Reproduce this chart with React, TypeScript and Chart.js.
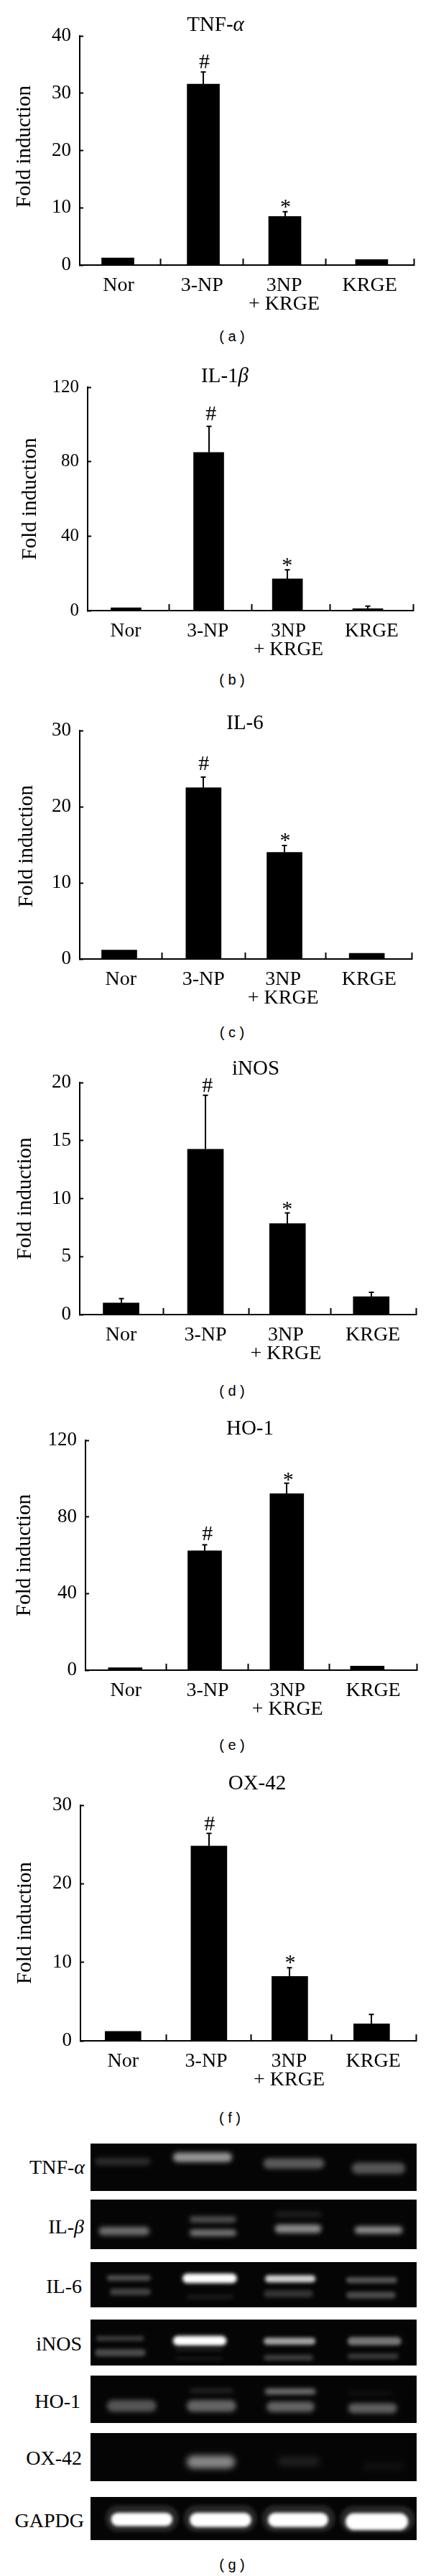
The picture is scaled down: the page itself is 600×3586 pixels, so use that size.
import React, { useEffect, useRef } from "react";
import { Chart, registerables } from "chart.js";

Chart.register(...registerables);

const SERIF = '"Liberation Serif", serif';

// ---------- bar chart data ----------
const categories = ["Nor", "3-NP", ["3NP", "+ KRGE"], "KRGE"];

const tnfValues = [1.25, 31.6, 8.5, 0.96];
const tnfErrors = [null, 33.7, 9.3, null];
const tnfTicks = [0, 10, 20, 30, 40];

const il1Values = [1.5, 85, 17, 1];
const il1Errors = [null, 99, 21.9, 2.4];
const il1Ticks = [0, 40, 80, 120];

const il6Values = [1.16, 22.5, 14, 0.75];
const il6Errors = [null, 23.9, 14.9, null];
const il6Ticks = [0, 10, 20, 30];

const inosValues = [1, 14.25, 7.85, 1.55];
const inosErrors = [1.38, 18.9, 8.76, 1.92];
const inosTicks = [0, 5, 10, 15, 20];

const hoValues = [1.25, 62.3, 92.1, 2.1];
const hoErrors = [null, 65.4, 97.6, null];
const hoTicks = [0, 40, 80, 120];

const oxValues = [1.2, 24.8, 8.2, 2.16];
const oxErrors = [null, 26.4, 9.3, 3.35];
const oxTicks = [0, 10, 20, 30];

const markSymbols = ["#", "*"];

// ---------- gel bands: [from %, to %, row position %, band height %, brightness] ----------
const tnfBands = [
  [1.3, 18.4, 38, 15, 45], [25.3, 43.4, 29, 20, 150], [53, 71.7, 42, 22, 90], [80.1, 96.5, 52, 24, 85],
];
const ilbBands = [
  [2.5, 18.1, 63.5, 17, 110], [30.4, 44.7, 40, 12, 85], [30.4, 44.7, 67, 13, 120],
  [56.5, 70.8, 30, 12, 30], [56.5, 70.8, 59, 17, 140], [81, 95.7, 61.5, 15, 140],
];
const il6Bands = [
  [5, 18.5, 35, 13, 75], [5.9, 18.5, 66, 15, 65], [29.5, 43.8, 77, 10, 25], [28.2, 44.9, 36, 21, 255],
  [53.5, 69, 37, 16, 210], [53.1, 68.3, 70, 16, 50], [78.4, 94, 40, 13, 85], [78.4, 93.6, 73, 15, 75],
];
const inosBands = [
  [1.7, 16.4, 41, 11, 60], [1.3, 16.9, 72, 16, 75], [26.1, 40.5, 65, 4, 50], [26.1, 40.5, 85, 5, 30],
  [25.3, 41.7, 46, 21, 255], [53.1, 69, 47, 15, 165], [53.1, 68.3, 83, 13, 60],
  [78.8, 95.3, 47, 18, 120], [78.8, 94.4, 80, 13, 55],
];
const hoBands = [
  [5, 20.2, 64, 25, 85], [30.4, 43.8, 32, 9, 40], [29.5, 44.7, 64, 25, 100],
  [53.5, 69, 33.5, 11, 130], [54, 68.7, 66, 22, 100], [79, 92.7, 37, 6, 22], [79, 94, 69, 21, 95],
];
const oxBands = [
  [29.5, 44.3, 60, 27, 135], [57.3, 70.4, 59, 20, 30], [83.5, 96, 69, 15, 18],
];
const gapdgBands = [
  [6.3, 25.1, 52, 31, 255], [30.4, 49.3, 53, 33, 255], [54.4, 72.9, 53, 33, 255], [78.2, 97.4, 57, 39, 255],
  [4.5, 27, 50, 62, 38], [28.5, 51, 50, 62, 38], [52.5, 75, 50, 62, 38], [76.5, 99.5, 52, 62, 38],
];

// ---------- layout (page pixels and percent positions) ----------
const panels = [
  {
    values: tnfValues, errors: tnfErrors, ticks: tnfTicks, max: 40,
    title: <>TNF-<i>α</i></>, caption: "( a )",
    axisX: 111, rightX: 576, top: 50, base: 369, titleX: 300, titleY: 33, captionY: 468, captionX: 323,
    yTitleX: 34.5, yTitleShift: -5.5, tickSize: 27, labelSize: 28, barW: 45,
    xTicks: [24.1, 49, 73.6, 100], barX: [11.4, 37, 61.4, 87.4], labelX: [11.6, 36.6, 61.2, 86.8],
    markX: [37.3, 61.6], markY: [35.6, 10.8],
  },
  {
    values: il1Values, errors: il1Errors, ticks: il1Ticks, max: 120,
    title: <>IL-1<i>β</i></>, caption: "( b )",
    axisX: 122, rightX: 575, top: 539, base: 850, titleX: 313, titleY: 522, captionY: 946, captionX: 323,
    yTitleX: 42, yTitleShift: 0, tickSize: 25, labelSize: 27.5, barW: 42,
    xTicks: [25.1, 50.4, 74.5, 100], barX: [11.8, 37.2, 61.4, 86.1], labelX: [11.7, 36.9, 61.7, 87.3],
    markX: [37.9, 61.3], markY: [106.2, 26.4],
  },
  {
    values: il6Values, errors: il6Errors, ticks: il6Ticks, max: 30,
    title: <>IL-6</>, caption: "( c )",
    axisX: 111, rightX: 573, top: 1017, base: 1335, titleX: 341, titleY: 1005, captionY: 1437, captionX: 323,
    yTitleX: 37, yTitleShift: 2, tickSize: 27, labelSize: 28, barW: 49,
    xTicks: [24.7, 49.8, 74.2, 100], barX: [11.9, 37.3, 61.7, 86.5], labelX: [12.4, 37.3, 61.3, 87.2],
    markX: [37.4, 61.9], markY: [25.8, 16],
  },
  {
    values: inosValues, errors: inosErrors, ticks: inosTicks, max: 20,
    title: <>iNOS</>, caption: "( d )",
    axisX: 111, rightX: 579, top: 1507, base: 1830, titleX: 356, titleY: 1486, captionY: 1936, captionX: 323,
    yTitleX: 35, yTitleShift: 0, tickSize: 27, labelSize: 28, barW: 50,
    xTicks: [24.9, 50.4, 74.6, 100], barX: [12.3, 37.4, 61.8, 86.7], labelX: [12.3, 37.4, 61.3, 87.2],
    markX: [38, 61.7], markY: [19.83, 9.4],
  },
  {
    values: hoValues, errors: hoErrors, ticks: hoTicks, max: 120,
    title: <>HO-1</>, caption: "( e )",
    axisX: 119, rightX: 580, top: 2005, base: 2325, titleX: 348, titleY: 1987, captionY: 2429, captionX: 323,
    yTitleX: 34.5, yTitleShift: 0, tickSize: 27, labelSize: 28, barW: 47,
    xTicks: [24.3, 49.2, 73.7, 100], barX: [12, 36, 60.8, 85.1], labelX: [12.2, 36.9, 61, 86.9],
    markX: [36.8, 61.2], markY: [71.8, 101.1],
  },
  {
    values: oxValues, errors: oxErrors, ticks: oxTicks, max: 30,
    title: <>OX-42</>, caption: "( f )",
    axisX: 112, rightX: 579, top: 2513, base: 2841, titleX: 358, titleY: 2481, captionY: 2948, captionX: 320,
    yTitleX: 35, yTitleShift: 0, tickSize: 27, labelSize: 28, barW: 50,
    xTicks: [25.6, 50.8, 74.8, 100], barX: [12.7, 38.3, 62.4, 86.8], labelX: [12.7, 37.5, 62.2, 87.3],
    markX: [38.5, 62.5], markY: [27.7, 10.4],
  },
];

const gelRows = [
  { label: <>TNF-<i>α</i></>, bands: tnfBands, top: 2984, bottom: 3050, labelRight: 118, labelY: 3017, blur: 3.2 },
  { label: <>IL-<i>β</i></>, bands: ilbBands, top: 3062, bottom: 3131, labelRight: 117, labelY: 3100, blur: 3 },
  { label: <>IL-6</>, bands: il6Bands, top: 3149, bottom: 3212, labelRight: 114, labelY: 3183, blur: 2.6 },
  { label: <>iNOS</>, bands: inosBands, top: 3229, bottom: 3293, labelRight: 114, labelY: 3263, blur: 2.6 },
  { label: <>HO-1</>, bands: hoBands, top: 3307, bottom: 3373, labelRight: 112, labelY: 3343, blur: 3.2 },
  { label: <>OX-42</>, bands: oxBands, top: 3387, bottom: 3454, labelRight: 114, labelY: 3422, blur: 4 },
  { label: <>GAPDG</>, bands: gapdgBands, top: 3476, bottom: 3536, labelRight: 117, labelY: 3509, blur: 2 },
];
const gelLeft = 126;
const gelRight = 580;

const CANVAS_HEAD = 45;
const CANVAS_FOOT = 72;

// draws whiskers and significance symbols through the chart's scales
const annotations = {
  id: "annotations",
  afterDatasetsDraw(chart: any, _args: any, opts: any) {
    const { ctx, scales } = chart;
    ctx.save();
    ctx.strokeStyle = "#000";
    ctx.lineWidth = 2;
    opts.errors.forEach((err: number | null, i: number) => {
      if (err == null) return;
      const x = Math.round(scales.x.getPixelForValue(opts.barX[i]));
      const y0 = scales.y.getPixelForValue(opts.values[i]);
      const y1 = scales.y.getPixelForValue(err);
      ctx.beginPath();
      ctx.moveTo(x, y0);
      ctx.lineTo(x, y1);
      ctx.moveTo(x - 3.5, y1);
      ctx.lineTo(x + 3.5, y1);
      ctx.stroke();
    });
    ctx.fillStyle = "#000";
    ctx.font = `30px ${SERIF}`;
    ctx.textAlign = "center";
    ctx.textBaseline = "alphabetic";
    markSymbols.forEach((sym, i) => {
      const x = scales.x.getPixelForValue(opts.markX[i]);
      const y = scales.y.getPixelForValue(opts.markY[i]);
      ctx.fillText(sym, x, y + (sym === "#" ? 10 : 14));
    });
    ctx.restore();
  },
};

const blurBands = {
  id: "blurBands",
  beforeDatasetsDraw(chart: any, _args: any, opts: any) {
    chart.ctx.save();
    chart.ctx.filter = `blur(${opts.radius}px)`;
  },
  afterDatasetsDraw(chart: any) {
    chart.ctx.restore();
  },
};

function BarPanel({ p }: { p: any }) {
  const ref = useRef<HTMLCanvasElement>(null);
  useEffect(() => {
    const chart = new Chart(ref.current as any, {
      type: "bar",
      data: {
        datasets: [
          {
            data: p.values.map((y: number, i: number) => ({ x: p.barX[i], y })),
            backgroundColor: "#000",
            barThickness: p.barW,
          },
        ],
      },
      plugins: [annotations],
      options: {
        animation: false,
        responsive: false,
        parsing: { xAxisKey: "x", yAxisKey: "y" },
        layout: { padding: { top: CANVAS_HEAD, left: 0, bottom: 0, right: 600 - p.rightX } },
        plugins: {
          legend: { display: false },
          tooltip: { enabled: false },
          annotations: { errors: p.errors, values: p.values, barX: p.barX, markX: p.markX, markY: p.markY },
        },
        scales: {
          y: {
            type: "linear",
            min: 0,
            max: p.max,
            afterBuildTicks: (s: any) => { s.ticks = p.ticks.map((value: number) => ({ value })); },
            afterFit: (s: any) => {
              s.width = p.axisX;
              if (!s.titleShifted) {
                const drawTitle = s.drawTitle.bind(s);
                s.drawTitle = () => {
                  s.ctx.save();
                  s.ctx.translate(0, p.yTitleShift);
                  drawTitle();
                  s.ctx.restore();
                };
                s.titleShifted = true;
              }
            },
            title: {
              display: true,
              text: "Fold induction",
              color: "#000",
              font: { family: SERIF, size: 29, lineHeight: 1 },
              padding: { top: p.yTitleX - 14.5, bottom: 0 },
            },
            border: { color: "#000", width: 2 },
            grid: { drawOnChartArea: false, drawTicks: true, tickLength: -5, tickColor: "#000", tickWidth: 2 },
            ticks: { color: "#000", font: { family: SERIF, size: p.tickSize }, padding: 17 },
          },
          x: {
            type: "linear",
            position: "bottom",
            weight: 0,
            min: 0,
            max: 100,
            offset: false,
            afterBuildTicks: (s: any) => { s.ticks = p.xTicks.map((value: number) => ({ value })); },
            afterFit: (s: any) => { s.height = 0; },
            border: { color: "#000", width: 2 },
            grid: { offset: false, drawOnChartArea: false, drawTicks: true, tickLength: -9, tickColor: "#000", tickWidth: 2 },
            ticks: { display: false },
          },
          xLabels: {
            type: "linear",
            position: "bottom",
            weight: 1,
            min: 0,
            max: 100,
            offset: false,
            afterBuildTicks: (s: any) => { s.ticks = p.labelX.map((value: number) => ({ value })); },
            afterFit: (s: any) => { s.height = CANVAS_FOOT; },
            border: { display: false },
            grid: { display: false },
            ticks: {
              color: "#000",
              font: { family: SERIF, size: p.labelSize, lineHeight: 0.93 },
              padding: 8,
              autoSkip: false,
              maxRotation: 0,
              minRotation: 0,
              callback: (_v: any, i: number) => categories[i],
            },
          },
        },
      } as any,
    });
    return () => chart.destroy();
  }, [p]);
  const h = p.base - p.top + CANVAS_HEAD + CANVAS_FOOT;
  return (
    <canvas
      ref={ref}
      width={600}
      height={h}
      style={{ position: "absolute", left: 0, top: p.top - CANVAS_HEAD, width: 600, height: h, display: "block" }}
    />
  );
}

function GelRow({ r }: { r: any }) {
  const ref = useRef<HTMLCanvasElement>(null);
  const w = gelRight - gelLeft;
  const h = r.bottom - r.top;
  useEffect(() => {
    const chart = new Chart(ref.current as any, {
      type: "line",
      data: {
        datasets: r.bands.map(([from, to, pos, size, lum]: number[]) => {
          const thick = (size / 100) * h;
          const inset = ((thick / 2) / w) * 100;
          return {
            data: [{ x: from + inset, y: pos }, { x: to - inset, y: pos }],
            borderColor: `rgb(${lum},${lum},${lum})`,
            borderWidth: thick,
            borderCapStyle: "round",
            pointRadius: 0,
            clip: false,
          };
        }),
      },
      plugins: [blurBands],
      options: {
        animation: false,
        responsive: false,
        parsing: false,
        layout: { padding: 0 },
        plugins: {
          legend: { display: false },
          tooltip: { enabled: false },
          blurBands: { radius: r.blur },
        },
        scales: {
          x: { type: "linear", min: 0, max: 100, display: false },
          y: { type: "linear", min: 0, max: 100, reverse: true, display: false },
        },
      } as any,
    });
    return () => chart.destroy();
  }, [r]);
  return (
    <canvas
      ref={ref}
      width={w}
      height={h}
      style={{ position: "absolute", left: gelLeft, top: r.top, width: w, height: h, background: "#050505", display: "block" }}
    />
  );
}

const textBase: React.CSSProperties = {
  position: "absolute",
  fontFamily: SERIF,
  color: "#000",
  lineHeight: 1,
  whiteSpace: "pre",
};

const captionStyle: React.CSSProperties = {
  position: "absolute",
  fontFamily: '"Liberation Sans", sans-serif',
  fontSize: 20,
  color: "#000",
  lineHeight: 1,
  whiteSpace: "pre",
  transform: "translate(-50%,-50%)",
};

export default function App() {
  return (
    <div style={{ position: "absolute", left: 0, top: 0, width: 600, height: 3586, background: "#fff", overflow: "hidden" }}>
      {panels.map((p, i) => (
        <React.Fragment key={i}>
          <BarPanel p={p} />
          <div style={{ ...textBase, left: p.titleX, top: p.titleY, fontSize: 29, transform: "translate(-50%,-50%)" }}>
            {p.title}
          </div>
          <div style={{ ...captionStyle, left: p.captionX, top: p.captionY }}>{p.caption}</div>
        </React.Fragment>
      ))}
      {gelRows.map((r, i) => (
        <React.Fragment key={i}>
          <GelRow r={r} />
          <div style={{ ...textBase, right: 600 - r.labelRight, top: r.labelY, fontSize: 28, transform: "translateY(-50%)" }}>
            {r.label}
          </div>
        </React.Fragment>
      ))}
      <div style={{ ...captionStyle, left: 323, top: 3570 }}>( g )</div>
    </div>
  );
}
